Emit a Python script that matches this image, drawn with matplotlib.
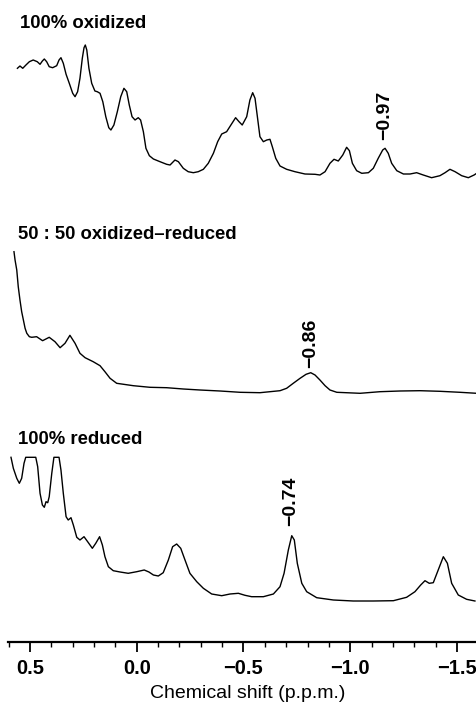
import matplotlib
matplotlib.use("Agg")
import matplotlib.pyplot as plt
from matplotlib.ticker import MultipleLocator, FixedLocator

plt.rcParams['font.family'] = ['Liberation Sans', 'DejaVu Sans']

# ---------------- data ----------------
# Trace 1: 100% oxidized  (chemical shift in ppm, intensity above its baseline, arbitrary units)
ox_ppm = [0.559, 0.547, 0.534, 0.519, 0.503, 0.485, 0.466, 0.453, 0.442, 0.433,
          0.422, 0.410, 0.394, 0.375, 0.364, 0.355, 0.344, 0.331, 0.316, 0.300,
          0.289, 0.277, 0.266, 0.255, 0.247, 0.241, 0.234, 0.224, 0.211, 0.196,
          0.185, 0.172, 0.159, 0.145, 0.131, 0.121, 0.107, 0.091, 0.075, 0.060,
          0.047, 0.035, 0.022, 0.008, -0.007, -0.018, -0.031, -0.043, -0.059, -0.078,
          -0.109, -0.140, -0.156, -0.179, -0.195, -0.218, -0.241, -0.265, -0.288, -0.312,
          -0.335, -0.359, -0.379, -0.398, -0.421, -0.441, -0.463, -0.479, -0.494, -0.515,
          -0.530, -0.543, -0.554, -0.567, -0.577, -0.593, -0.609, -0.624, -0.635, -0.651,
          -0.671, -0.702, -0.741, -0.788, -0.835, -0.858, -0.882, -0.905, -0.924, -0.944,
          -0.965, -0.983, -0.996, -1.010, -1.030, -1.054, -1.085, -1.108, -1.131, -1.152,
          -1.163, -1.178, -1.194, -1.218, -1.249, -1.280, -1.311, -1.342, -1.381, -1.420,
          -1.444, -1.467, -1.491, -1.522, -1.553, -1.580, -1.592]
ox_int = [109.7, 112.0, 109.7, 113.0, 116.3, 118.0, 116.3, 113.7, 117.0, 119.0,
          116.3, 111.3, 110.3, 112.3, 118.0, 120.3, 114.7, 103.7, 94.7, 84.7,
          81.3, 86.3, 99.7, 119.7, 130.3, 133.0, 128.0, 109.7, 94.7, 87.0,
          86.3, 84.7, 76.3, 61.3, 50.3, 48.0, 53.0, 66.3, 81.3, 89.7,
          86.3, 73.0, 61.3, 58.0, 60.3, 58.0, 46.3, 29.7, 22.3, 19.0,
          16.3, 13.7, 13.0, 18.0, 16.3, 9.7, 6.3, 5.3, 6.3, 8.7,
          14.7, 24.7, 36.3, 44.0, 46.3, 53.0, 60.3, 56.3, 53.0, 61.3,
          78.0, 85.3, 79.7, 58.0, 41.3, 36.3, 38.0, 38.7, 31.3, 19.7,
          12.0, 8.7, 6.3, 4.0, 3.7, 3.0, 6.3, 14.7, 18.7, 17.0,
          23.0, 30.7, 27.3, 14.7, 7.3, 4.7, 5.3, 9.7, 19.7, 28.0,
          29.7, 24.7, 14.7, 7.3, 4.0, 4.0, 5.3, 3.0, 0.3, 2.3,
          5.3, 8.7, 6.3, 2.3, 0.3, 3.0, 4.7]

# Trace 2: 50:50 oxidized-reduced
mix_ppm = [0.575, 0.570, 0.562, 0.555, 0.547, 0.539, 0.531, 0.523, 0.515, 0.503,
           0.492, 0.469, 0.441, 0.410, 0.383, 0.359, 0.336, 0.313, 0.289, 0.266,
           0.242, 0.204, 0.172, 0.149, 0.125, 0.094, 0.016, -0.062, -0.140, -0.218,
           -0.296, -0.390, -0.484, -0.577, -0.671, -0.702, -0.733, -0.765, -0.793, -0.815,
           -0.835, -0.858, -0.882, -0.905, -0.937, -1.046, -1.139, -1.233, -1.327, -1.420,
           -1.514, -1.592]
mix_int = [141.8, 133.5, 123.5, 106.8, 93.5, 81.8, 73.5, 65.2, 60.2, 56.8,
           56.2, 56.8, 52.8, 56.2, 51.8, 45.8, 50.2, 58.2, 50.2, 40.2,
           35.8, 31.8, 27.8, 21.8, 15.2, 10.2, 7.8, 6.2, 5.8, 4.5,
           3.5, 2.5, 1.2, 0.8, 2.8, 5.2, 10.2, 15.2, 19.2, 20.8,
           18.5, 13.5, 7.8, 3.5, 1.2, 0.2, 1.8, 2.5, 2.8, 2.2,
           1.2, 0.2]

# Trace 3: 100% reduced (tallest peaks clipped at the top, as in the original)
red_ppm = [0.589, 0.578, 0.562, 0.550, 0.539, 0.528, 0.520, 0.473, 0.464, 0.453,
           0.442, 0.433, 0.425, 0.417, 0.410, 0.398, 0.388, 0.364, 0.355, 0.344,
           0.331, 0.321, 0.308, 0.297, 0.281, 0.266, 0.247, 0.230, 0.208, 0.192,
           0.174, 0.161, 0.149, 0.133, 0.110, 0.078, 0.040, 0.000, -0.035, -0.057,
           -0.078, -0.101, -0.124, -0.148, -0.168, -0.187, -0.206, -0.226, -0.249, -0.281,
           -0.312, -0.351, -0.398, -0.437, -0.476, -0.507, -0.538, -0.593, -0.640, -0.671,
           -0.690, -0.710, -0.726, -0.738, -0.752, -0.773, -0.796, -0.843, -0.921, -1.014,
           -1.108, -1.202, -1.264, -1.303, -1.330, -1.350, -1.370, -1.389, -1.412, -1.436,
           -1.455, -1.475, -1.506, -1.545, -1.584]
red_int = [144.2, 133.2, 123.2, 118.2, 123.2, 138.2, 144.2, 144.2, 134.8, 108.2,
           96.5, 94.2, 99.8, 98.8, 104.8, 128.2, 144.2, 144.2, 131.5, 108.2,
           84.8, 81.5, 83.8, 76.5, 64.2, 61.5, 64.8, 59.8, 53.2, 58.2,
           64.8, 56.5, 44.8, 34.8, 30.8, 29.5, 28.2, 29.8, 31.5, 29.5,
           26.5, 25.5, 28.8, 41.5, 54.8, 57.5, 53.2, 41.5, 28.2, 19.8,
           13.2, 7.5, 5.8, 7.5, 8.2, 6.2, 4.8, 4.8, 7.5, 14.8,
           28.2, 51.5, 65.8, 61.5, 38.2, 18.2, 9.8, 3.8, 1.5, 0.5,
           0.5, 0.8, 4.2, 9.8, 16.5, 20.8, 18.2, 18.8, 31.5, 44.8,
           38.2, 18.2, 6.5, 2.2, 0.5]

titles = ["100% oxidized", "50 : 50 oxidized\u2013reduced", "100% reduced"]
peak_labels = ["\u22120.97", "\u22120.86", "\u22120.74"]
peak_ppm = [-1.160, -0.815, -0.722]
peak_int = [29.7, 20.8, 65.8]
tick_values = [0.5, 0.0, -0.5, -1.0, -1.5]
tick_labels = ["0.5", "0.0", "\u22120.5", "\u22121.0", "\u22121.5"]

# ---------------- layout ----------------
W, H = 477, 702
fig = plt.figure(figsize=(W / 100, H / 100), dpi=100)
axis_y = 642  # pixel row of the axis line
ax = fig.add_axes([0, (H - axis_y) / H, 1, axis_y / H])
ax.set_xlim(0.5 + 30 / 213.5, 0.5 - 447 / 213.5)
ax.set_ylim(0, axis_y)

baselines = [464, 248.5, 40.5]
series = [(ox_ppm, ox_int), (mix_ppm, mix_int), (red_ppm, red_int)]
for (xs, ys), b in zip(series, baselines):
    ax.plot(xs, [b + v for v in ys], color='black', lw=1.0,
            solid_joinstyle='round', antialiased=True)

for lab, px, pi, b, gap in zip(peak_labels, peak_ppm, peak_int, baselines, [8, 5, 10]):
    ax.text(px, b + pi + gap, lab, rotation=90, ha='center', va='bottom',
            fontsize=14, fontweight='bold')

title_pos = [(20.5, 28), (18.3, 239.3), (18.3, 444.3)]
for t, (x, y) in zip(titles, title_pos):
    fig.text(x / W, 1 - y / H, t, ha='left', va='baseline',
             fontsize=13.3, fontweight='bold')

for s in ['top', 'left', 'right']:
    ax.spines[s].set_visible(False)
ax.spines['bottom'].set_linewidth(1.6)
ax.spines['bottom'].set_bounds(0.5 + 22 / 213.5, 0.5 - 447 / 213.5)
ax.set_yticks([])
ax.xaxis.set_major_locator(FixedLocator(tick_values))
ax.set_xticklabels(tick_labels, fontsize=14.5, fontweight='bold')
ax.xaxis.set_minor_locator(MultipleLocator(0.1))
ax.tick_params(axis='x', which='major', length=7, width=1.3, pad=5)
ax.tick_params(axis='x', which='minor', length=3.5, width=1.0)
ax.patch.set_visible(False)

fig.text(247.5 / W, 1 - 698 / H, "Chemical shift (p.p.m.)", ha='center',
         va='baseline', fontsize=14)

fig.savefig("out.png", dpi=100)
